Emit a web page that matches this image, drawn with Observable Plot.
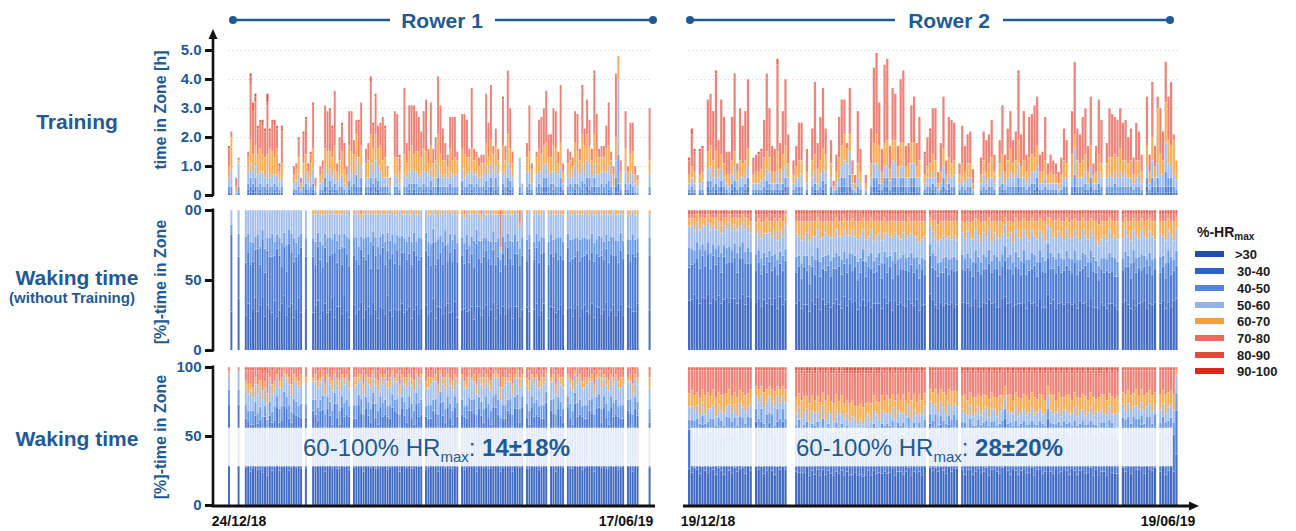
<!DOCTYPE html>
<html><head><meta charset="utf-8">
<script src="https://cdn.jsdelivr.net/npm/d3@7"></script>
<script src="https://cdn.jsdelivr.net/npm/@observablehq/plot@0.6"></script>
<style>
body{margin:0;background:#fff;font-family:"Liberation Sans",Arial,Helvetica,sans-serif;}
#root{position:relative;width:1296px;height:531px;overflow:hidden;background:#fff;}
.pnl{position:absolute;}
.pnl svg{display:block;overflow:visible;}
.pnl [aria-label^="y-axis"] text{font:bold 15px "Liberation Sans",Arial,sans-serif;fill:#1f5a96;}
.pnl [aria-label^="y-axis"] path,.pnl [aria-label^="y-axis"] line{stroke:#111;stroke-width:3px;}
.t{position:absolute;white-space:nowrap;font-weight:bold;line-height:1;}
.blue{color:#1f5a96;}
.rot{transform:translate(-50%,-50%) rotate(-90deg);transform-origin:center;}
.sum{position:absolute;white-space:nowrap;color:#1f5a96;font-size:24px;line-height:24px;}
.sum .sb{font-size:15px;position:relative;top:6px;}
.leg{position:absolute;font-weight:bold;color:#1a1a1a;font-size:13px;line-height:13px;white-space:nowrap;}
.sw{position:absolute;width:29px;height:6px;}
</style></head>
<body><div id="root"></div>
<script>
// ---------- data ----------
const ZONES = [">30","30-40","40-50","50-60","60-70","70-80","80-90","90-100"];
const ZONE_COLORS = ["#1d4fb6","#2d63c9","#5289e0","#93b4ea","#f6a03a","#eb6c5f","#e24b37","#e0251a"];

const rower1Start = "2018-12-24";   // 24/12/18
const rower1Days = 176;             // through 17/06/19
const rower2Start = "2018-12-19";   // 19/12/18
const rower2Days = 183;             // through 19/06/19

// one token per day, one base-36 digit per zone (>30 ... 90-100); "-" = no data
// Training: units of 0.1 h
const rower1Training = `
01234610 0126b200 - 00012300 01281100 - - - 11245200 12358j31
11246f30 12347f21 01247910 11248910 01256a20 01237910 11246h13 0123a610 01248a10 11236b20
01249710 01133210 01235b20 - - - - 01123300 00234200 01246610
00112200 01235a10 11246c10 01124210 01235310 11257f10 00111300 - 01123300 01134300
12346f00 01248e00 11346e10 01237a10 11249j00 01133300 01236800 01248910 01125810 00124300
11357c00 01248e00 01346500 12468500 01237c10 12347f00 - 01235500 01236600 1235ai20
01348810 12369d10 11356800 01259800 01236f00 01237a10 01233100 00122100 - 01246g00
01237f00 01124510 - 01247n00 01235700 11247g00 01358e00 11246h00 01347e00 01239c00
01246900 11248d00 01257i00 01244500 11348f00 01235500 01236800 1235ak00 01247h00 01236b00
01245600 01234400 01348b00 01236f00 01246e00 01245300 - 11347c00 01238e00 01246d00
01345300 11248l00 01245400 01345200 01234300 01235300 01244300 11358h00 01246c00 12358j00
01256300 02447600 01245400 - 11249g10 01245500 1235am00 11347e00 01235400 -
- 012a0000 00130000 - 01255500 11247g00 01125200 - 01246200 01348a00
01256d00 12347d00 12357i00 01246800 01345800 11249d00 01258d00 01244400 12348k00 01124300
- 01235500 01344300 01234300 11268b00 01347d00 01245400 1136ag10 01349600 12369c00
02456900 01245400 1235al10 01248d00 01246300 01345400 01255400 01348800 11357f00 01245300
00124300 12368m00 13aq8000 01124400 - 11248d00 01124200 01346b00 01248a00 00133300
00122200 - - - - 01245i00`;

const rower2Training = `
01123510 01234b20 01124710 - 01123810 01133810 - 12246i00 11357i00 01236h00
11256r10 01233a00 12245j00 01235g00 01123800 00124800 11235f00 12255r00 01133300 01236i00
01235d00 11235h00 12346o00 - 01123600 01124600 01124610 01134610 01237d00 11346r00
11245h00 01124900 01124800 11247u20 01125900 11246f00 12347n00 01235a00 - 01123500
01234700 01236d00 01245d00 - 01124800 - 01236b00 11246p00 01125900 01245f00
11347l00 01346900 - 01235800 00111200 01124600 01237e00 12347g00 12369c00 01285200
12486g00 01123500 00112300 01235i00 01124800 - 00112300 - 01235c00 12357q00
1235ar10 11258f00 01124800 12348r00 12349s00 01134800 12367i00 12358g00 01234700 12348m00
12348p00 01234700 01235700 12357d00 12357g00 01234800 01236f00 - 01123710 01234a00
01235b10 11246g00 01236i00 00112400 01124a00 12346i00 01123500 11236e00 01235f00 01245d00
- 01123400 01235d00 01124900 01235a00 01235b00 00112500 - - 01123600
01245a00 01124b00 01235a00 01237d00 01124600 - 01235800 11246h00 01124600 01236b00
01258d00 01235800 01245a00 12358n10 01234b00 01236h00 01124600 01237e00 01346e00 11245i00
12347h00 01124600 01124700 01236f00 01123400 01124600 01123500 01123400 00112400 01123600
01236b00 01235800 - 01238f00 12495p00 01236b00 01235a00 01236f00 11246g00 01124900
12347h00 01123400 01124900 11246j00 01235f00 - 01235700 01246h00 01237f00 01346d00
01237d00 01258e00 01236d00 01245e00 01235900 01236b00 01123600 01236d00 01245a00 01124600
- 12347h00 01124600 12368i10 01234700 1235j400 01247g00 01245a00 125aee00 12358f00
12347m00 0124c200 01137000`;

// Waking time (without training): relative weights per zone, shown as % of the day
const rower1WakingNoTraining = `
- 8g230000 - - b9550000 - - 8c660000 ab450000 7c570000
9a470000 cb360000 8d350000 a9480000 bc240000 79580000 ac360000 9b460000 8c550000 ba370000
7e350000 9c460000 a8570000 cb350000 8a680000 9d340000 ab450000 7c560000 9b370000 ca460000
8e350000 - 9b460000 - - 8c451000 a9561000 bc350000 7d461000 9a571000
ac341000 8b560000 9c451000 b9360000 7e441000 aa561000 9c341000 8b471000 ca350000 9d451000
7b660000 - ab451000 8c560000 9a471000 bc341100 7d451000 9b560000 ac451000 8a670000
bd341000 9c451000 7b571000 ac460000 9d341000 8b561000 ca450000 9c461000 7d450000 ab571000
8c341000 9a660000 bc451000 8d351000 9b470000 ac451000 7c561000 9d450000 ab361000 8c551000
9b460000 - ac450000 8d361000 9b571000 bc340000 7c561000 9a451000 ad460000 8b561000
9c340000 ba471000 8d450000 9c561000 ab350000 7c461000 - 9c451000 ab561100 8d350000
9b471000 ac451000 7c661000 9d340000 ab461000 8c551100 9b460000 ac351000 8d461000 9a570000
bc441000 7c561000 9b451000 9a321810 ac451000 8b561000 9d350000 ab461000 7c561000 9b450000
ac361000 8c451300 9c460000 - ab561000 8d350000 - 9b461000 ac350000 8c561000
9d451000 ab360000 - 7c561000 9b450000 ac461000 8d351000 9b560000 ab451000 8c461000
- 9d350000 ab561000 7c451000 9b460000 ac351000 8d561000 9b451000 ab460000 8c351000
9d561000 ab450000 7c461000 9b351000 ac560000 8d451000 9b461000 ab350000 8c561000 9d451000
ab460000 7c351000 9b561000 ac450000 8d461000 - 9b351000 ab561000 8c450000 9d461000
ab351000 - - - - 9c451000`;

const rower2WakingNoTraining = `
c8552110 d9462110 e8353110 da452100 c9553110 eb352110 d8462110 ea352100 c9463110 eb352110
d9453110 ea362100 c8553210 db352110 e9453110 ca462100 d9353110 eb452110 c8563110 da352110
e9452100 cb363110 d8452110 e9353210 - c8453210 d9353110 b8454210 d9353210 c8464110
ea353210 c9454210 d8363110 b9455210 d8353110 c9454210 da363100 - - -
c8463210 d9354210 b8465210 ca354210 c9463210 a7565210 d9354210 c8464210 ea353110 b9465210
d8354210 c9463210 da354210 b8464210 c9354210 d8463110 ca354210 b9464210 d8353110 c9464210
ea354210 c8463110 d9354210 b8565210 c9464210 da353110 c8465210 d9354210 ba463110 c8355210
d9464210 ca353210 b8465210 e9354110 c8463210 d9354210 b9565210 da353210 c8464210 d9355210
ca463210 b9354210 e8465110 ca353210 c9464210 d8354210 b9466210 ca355210 c8464210 -
fa352110 e9463210 da455210 c9465310 d8365210 c9464210 da355210 c8464210 d9355210 ca464210
c9355210 - d9463210 c8354210 da463210 b9354210 c8465210 d9353110 ca464210 b8355210
d9463210 c9354210 ea463110 c8355210 d9463210 ba354210 c9465210 d8353210 fa462110 c9354210
d9463210 b8355210 ca463110 c9354210 d8465210 ca353110 b9464210 d8355210 c9463110 da354210
c8465210 d9353110 ca464210 b9355210 fa452110 c9463110 d8354210 ca465210 b9353110 d8464210
c9355210 da463110 c8354210 d9465210 ca353110 b9464210 d8355210 c9463110 da354210 c8465210
d9353110 ca464210 b9355210 c8466310 d9355210 c9464210 ba355210 c8563110 d9455210 c8564210
b9465210 - c8354210 d9463110 ca354210 b8465210 d9353110 c9464210 da355210 c8463110
d9354210 ca465210 b9353110 c8464210 d9355210 - c8463210 d9354210 b8465210 ca353110
c9564210 d8355210 e9463110`;

// Waking time (whole day)
const rower1Waking = `
cf441100 - - - de450100 - - be452310 cd353410 ae462410
bd443510 ce452300 ad353410 bf462310 ad453520 be352310 9d453620 ce461300 ae353410 bd452400
cf351200 ae462310 bd453300 df451100 ce351200 af462300 bd353410 ce452200 bf461300 cd352310
ae453200 - bf462300 - - ce351300 be452200 cd462310 bf351300 de452100
ad463410 bf351200 ce452300 bd463310 df351100 ae452300 bd463310 cf351200 be452300 cd461200
af352310 - be453300 cd462210 ef351200 ce452200 ad463410 bf351200 ce452300 bd463210
df351100 ae452300 bd463310 cf351200 be452300 cd461200 af352310 be453300 ef461100 bf351300
ce452200 ad463410 bf351200 ce452300 bd463210 cf351200 ae452300 bd463310 df351100 be452300
cd461200 - af352310 be453300 cd462210 bf351300 ce452200 ad463410 ef351100 ce452300
bd463210 cf351200 ae452300 bd463310 cf351200 be452300 - cd461200 af352310 be453300
df462100 bf351300 ce452200 ad463410 bf351200 ce452300 bd463210 cf351200 ae452300 bd463310
cf351200 ef452100 cd461200 ad354510 be453300 cd462210 bf351300 ce452200 ad463410 bf351200
df452100 bd463210 cf351200 - ae452300 bd463310 cf351200 be452300 cd461200 af352310
be453300 cd462210 ef351100 - bf351300 ce452200 ad463410 bf351200 ce452300 bd463210
- cf351200 ae452300 bd463310 df351100 be452300 cd461200 af352310 be453300 cd462210
bf351300 ce452200 ad463410 bf351200 ef452100 bd463210 cf351200 ae452300 bd463310 cf351200
be452300 cd461200 af352310 be453300 cd462210 - bf351300 ce452200 ad463410 bf351200
ce452300 - - - - bd463210`;

const rower2Waking = `
bc344710 ad345610 cb435810 bd344710 ac435910 cd344610 bb436810 ad345710 cb434810 bd345610
ac436910 cd344710 bc435810 ad346810 cb434710 bd445610 ac435810 cd344710 bb436910 bd344610
cc435710 ad345810 cb434710 bd445610 - ce443510 bd354610 ce443510 ad355710 be444610
cd353510 be444610 ad365710 ce443510 bd354610 ce443510 bd354610 - - -
bc345811 ad344710 bb436911 ac345810 cb344711 aa446a11 bc345810 ad344911 bb435810 ac346a11
bd344710 ab436911 bc345810 ac344911 ab436a11 bd345810 ac344911 bb436810 ac345a11 bc344911
ab436a11 ac345911 bb344b11 aa436b11 ab345a11 aa446c11 ac345a11 bb344911 ab436a11 bc345810
ac344911 bb436a11 ad345810 bc344911 ac436810 bd345911 bb344710 ac436911 bd345810 bc344911
ad436810 bb345911 cd344710 ac436911 bd345810 ab344911 bc436810 ad345911 cb344710 -
ce344610 bd345710 cd435610 bc346810 cd344610 bd345710 ac436810 cd344610 be345710 bc434610
cd345710 - bc344711 ad436810 cb345911 bd344710 ac436811 bc345910 cd344711 ab436810
bd345711 cc344810 ad436911 bc345710 cd344811 bb436910 ad345711 cc344810 de343510 bc345711
ad436810 cb344911 bd345710 ac436811 bc344910 cd345711 ab436810 bd344911 cc345710 ad436811
bb344910 cd345711 ac436810 bc344911 de343510 bd345711 ac436810 cc344911 ad345710 bb436811
cd344910 bc345711 ad436810 cb344911 bd345710 ac436811 bc344910 cd345711 ab436810 bd344911
cc345710 ad436811 bb344910 ac455811 bd345711 bc436810 ad345911 cb344710 bd436811 ac345910
bc456811 - cd344710 bd435810 cc344610 ad345810 cb434710 bd345610 bc434810 cd344610
ad345810 cb434710 bd344610 bc345810 cd434710 - bd345810 cc344610 ad436810 bd345710
cb344610 bc445810 if662100`;

const trainingTicks = [0, 1, 2, 3, 4, 5];
const trainingTickLabels = ["0", "1.0", "2.0", "3.0", "4.0", "5.0"];
const shareTicks = [0, 0.5, 1];
const wakingNoTrainingTickLabels = ["0", "50", "00"];
const wakingTickLabels = ["0", "50", "100"];
const rowLabels = ["Training", "Waking time", "(without Training)", "Waking time"];
const axisTitles = ["time in Zone [h]", "[%]-time in Zone", "[%]-time in Zone"];
const rowerTitles = ["Rower 1", "Rower 2"];
const rower1DateLabels = ["24/12/18", "17/06/19"];
const rower2DateLabels = ["19/12/18", "19/06/19"];
const highZoneLabel = "60-100% HR";
const rower1HighShare = "14±18%";
const rower2HighShare = "28±20%";
const legendTitle = "%-HR";

// ---------- drawing ----------
const root = document.getElementById("root");

function parseTokens(str, t0, unit) {
  const rows = [];
  str.trim().split(/\s+/).forEach((tok, i) => {
    if (tok === "-") return;
    const date = d3.utcDay.offset(t0, i);
    for (let z = 0; z < ZONES.length; z++) {
      const v = parseInt(tok[z], 36) * unit;
      if (v > 0) rows.push({date, zone: ZONES[z], value: v});
    }
  });
  return rows;
}

function panel(cfg) {
  const t0 = new Date(cfg.start + "T00:00:00Z");
  const t1 = d3.utcDay.offset(t0, cfg.days);
  const rows = parseTokens(cfg.tokens, t0, cfg.unit);
  const marks = [];
  if (cfg.grid) marks.push(Plot.ruleY(cfg.grid, {x1: () => t0, x2: () => t1, stroke: "#d6d6d6", strokeWidth: 0.8, strokeDasharray: "1.5,2.5"}));
  const bar = {x: "date", interval: d3.utcDay, y: "value", fill: "zone", fillOpacity: 0.84, insetRight: 0.45, insetTop: 0.25};
  if (cfg.normalize) bar.offset = "normalize";
  marks.push(Plot.rectY(rows, bar));
  if (cfg.band) marks.push(Plot.rect([cfg.band], {
    x1: b => d3.utcDay.offset(t0, b.from), x2: b => d3.utcDay.offset(t0, b.to),
    y1: b => b.lo, y2: b => b.hi, fill: "#ffffff", fillOpacity: 0.84
  }));
  const svg = Plot.plot({
    width: cfg.width, height: cfg.height,
    marginLeft: cfg.marginLeft, marginRight: 4, marginTop: 0, marginBottom: 0,
    style: {background: "transparent", overflow: "visible"},
    x: {type: "utc", domain: [t0, t1], range: cfg.xRange, axis: null},
    y: cfg.ticks ? {domain: cfg.yDomain, range: cfg.yRange, axis: "left", ticks: cfg.ticks,
         tickFormat: d => cfg.tickLabels[cfg.ticks.indexOf(d)], tickSize: 8, tickPadding: 4, label: null}
       : {domain: cfg.yDomain, range: cfg.yRange, axis: null},
    color: {domain: ZONES, range: ZONE_COLORS},
    marks
  });
  const wrap = document.createElement("div");
  wrap.className = "pnl";
  wrap.style.left = cfg.left + "px";
  wrap.style.top = cfg.top + "px";
  wrap.appendChild(svg);
  root.appendChild(wrap);
}

const R1 = {left: 140, width: 525, marginLeft: 73, xRange: [228 - 140, 651 - 140], start: rower1Start, days: rower1Days};
const R2 = {left: 670, width: 530, marginLeft: 10, xRange: [688 - 670, 1178 - 670], start: rower2Start, days: rower2Days};
const ROWS = [
  {top: 30, height: 172, yDomain: [0, 5], yRange: [165, 20], unit: 0.1, normalize: false, grid: [1, 2, 3, 4, 5]},
  {top: 202, height: 156, yDomain: [0, 1], yRange: [148, 8], unit: 1, normalize: true},
  {top: 358, height: 152, yDomain: [0, 1], yRange: [147, 9], unit: 1, normalize: true}
];
panel({...R1, ...ROWS[0], tokens: rower1Training, ticks: trainingTicks, tickLabels: trainingTickLabels});
panel({...R1, ...ROWS[1], tokens: rower1WakingNoTraining, ticks: shareTicks, tickLabels: wakingNoTrainingTickLabels});
panel({...R1, ...ROWS[2], tokens: rower1Waking, ticks: shareTicks, tickLabels: wakingTickLabels, band: {from: 0, to: 176, lo: 0.28, hi: 0.56}});
panel({...R2, ...ROWS[0], tokens: rower2Training});
panel({...R2, ...ROWS[1], tokens: rower2WakingNoTraining});
panel({...R2, ...ROWS[2], tokens: rower2Waking, band: {from: 1, to: 181, lo: 0.28, hi: 0.56}});

// ---------- text ----------
function addText(html, cls, css) {
  const d = document.createElement("div");
  d.className = cls;
  d.innerHTML = html;
  Object.assign(d.style, css);
  root.appendChild(d);
  return d;
}
addText(rowLabels[0], "t blue", {left: "77px", top: "111px", fontSize: "21px", transform: "translateX(-50%)"});
addText(rowLabels[1], "t blue", {left: "77px", top: "267px", fontSize: "21px", transform: "translateX(-50%)"});
addText(rowLabels[2], "t blue", {left: "72px", top: "290px", fontSize: "15px", transform: "translateX(-50%)"});
addText(rowLabels[3], "t blue", {left: "77px", top: "428px", fontSize: "21px", transform: "translateX(-50%)"});
addText(axisTitles[0], "t blue rot", {left: "161px", top: "110px", fontSize: "16px"});
addText(axisTitles[1], "t blue rot", {left: "161px", top: "282px", fontSize: "16px"});
addText(axisTitles[2], "t blue rot", {left: "161px", top: "437px", fontSize: "16px"});
addText(rowerTitles[0], "t blue", {left: "442px", top: "10px", fontSize: "21px", transform: "translateX(-50%)"});
addText(rowerTitles[1], "t blue", {left: "949px", top: "10px", fontSize: "21px", transform: "translateX(-50%)"});
addText(rower1DateLabels[0], "t", {left: "239px", top: "514px", fontSize: "14px", color: "#111", transform: "translateX(-50%)"});
addText(rower1DateLabels[1], "t", {left: "626px", top: "514px", fontSize: "14px", color: "#111", transform: "translateX(-50%)"});
addText(rower2DateLabels[0], "t", {left: "708px", top: "514px", fontSize: "14px", color: "#111", transform: "translateX(-50%)"});
addText(rower2DateLabels[1], "t", {left: "1168px", top: "514px", fontSize: "14px", color: "#111", transform: "translateX(-50%)"});
addText(`${highZoneLabel}<span class="sb">max</span>: <b>${rower1HighShare}</b>`, "sum", {left: "303px", top: "436px"});
addText(`${highZoneLabel}<span class="sb">max</span>: <b>${rower2HighShare}</b>`, "sum", {left: "796px", top: "436px"});
addText(`${legendTitle}<span style="font-size:10px;position:relative;top:3px">max</span>`, "leg", {left: "1197px", top: "226px", fontSize: "14px"});
const legendY = [254, 271, 288, 305, 321, 338, 355, 371];
ZONES.forEach((z, i) => {
  const sw = document.createElement("div");
  sw.className = "sw";
  sw.style.left = "1195px";
  sw.style.top = (legendY[i] - 3) + "px";
  sw.style.background = ZONE_COLORS[i];
  root.appendChild(sw);
  addText(z, "leg", {left: (i === 0 ? 1235 : 1237) + "px", top: (legendY[i] - 6) + "px"});
});

// ---------- axis lines, arrows, title rules ----------
const ns = "http://www.w3.org/2000/svg";
const ov = document.createElementNS(ns, "svg");
ov.setAttribute("width", 1296); ov.setAttribute("height", 531);
ov.style.position = "absolute"; ov.style.left = "0"; ov.style.top = "0"; ov.style.pointerEvents = "none";
function el(tag, attrs) { const e = document.createElementNS(ns, tag); for (const k in attrs) e.setAttribute(k, attrs[k]); ov.appendChild(e); return e; }
const AX = "#111";
el("line", {x1: 213, x2: 213, y1: 196, y2: 37, stroke: AX, "stroke-width": 2.6});
el("polygon", {points: "213,29 208.5,39 217.5,39", fill: AX});
el("line", {x1: 213, x2: 213, y1: 208.5, y2: 351.5, stroke: AX, "stroke-width": 2.6});
el("line", {x1: 213, x2: 213, y1: 365.5, y2: 506, stroke: AX, "stroke-width": 2.6});
el("line", {x1: 211.7, x2: 655, y1: 506, y2: 506, stroke: AX, "stroke-width": 3});
el("line", {x1: 683, x2: 1190, y1: 506, y2: 506, stroke: AX, "stroke-width": 3});
el("polygon", {points: "1199,506 1189,501.5 1189,510.5", fill: AX});
const TB = "#1f5a96";
[[233, 390], [495, 653], [690, 895], [1003, 1170]].forEach(([a, b]) => el("line", {x1: a, x2: b, y1: 20, y2: 20, stroke: TB, "stroke-width": 2.6}));
[233, 653, 690, 1170].forEach(x => el("circle", {cx: x, cy: 20, r: 4, fill: TB}));
root.appendChild(ov);
</script>
</body></html>
